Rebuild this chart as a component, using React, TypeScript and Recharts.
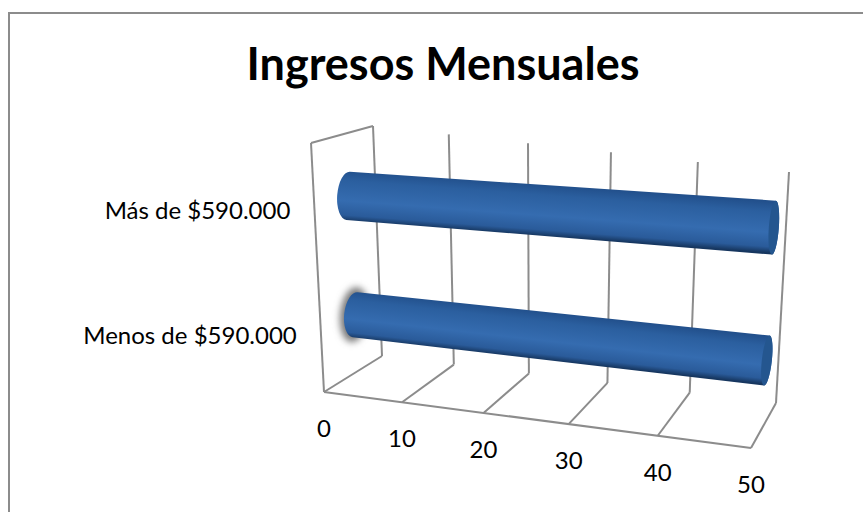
import { BarChart, Bar, XAxis, YAxis, CartesianGrid } from 'recharts';

const TITLE = 'Ingresos Mensuales';
const categories = ['Más de $590.000', 'Menos de $590.000'];
const values = [50, 50];
const xTicks = [0, 10, 20, 30, 40, 50];

const FONT = 'Lato, "Open Sans", sans-serif';
const GRID = '#8c8c8c';

// flat plot box that recharts lays out, everything is then projected into the 3D look
const PLOT = { left: 100, top: 100, width: 600, height: 250 };

type Pt = [number, number];
type Quad = [Pt, Pt, Pt, Pt]; // u0v0, u1v0, u1v1, u0v1

// unit square -> quad homography
function makeProjection([p0, p1, p2, p3]: Quad) {
  const dx1 = p1[0] - p2[0];
  const dx2 = p3[0] - p2[0];
  const sx = p0[0] - p1[0] + p2[0] - p3[0];
  const dy1 = p1[1] - p2[1];
  const dy2 = p3[1] - p2[1];
  const sy = p0[1] - p1[1] + p2[1] - p3[1];
  const det = dx1 * dy2 - dx2 * dy1;
  const g = (sx * dy2 - dx2 * sy) / det;
  const h = (dx1 * sy - sx * dy1) / det;
  const a = p1[0] - p0[0] + g * p1[0];
  const b = p3[0] - p0[0] + h * p3[0];
  const d = p1[1] - p0[1] + g * p1[1];
  const e = p3[1] - p0[1] + h * p3[1];
  return (u: number, v: number): Pt => {
    const w = g * u + h * v + 1;
    return [(a * u + b * v + p0[0]) / w, (d * u + e * v + p0[1]) / w];
  };
}

const backWall = makeProjection([[373, 126], [789, 172], [776, 403], [382, 356]]);
const floor = makeProjection([[382, 356], [776, 403], [751, 448], [324, 392]]);
const barPlane = makeProjection([[344.5, 133.5], [777.5, 157.5], [763.5, 423.5], [358.5, 371.5]]);

// the back wall is more foreshortened along the value axis than its corners give
const DEPTH = 0.905;
const toU = (x: number) => (x - PLOT.left) / PLOT.width;
const wallU = (u: number) => (DEPTH * u) / (1 + (DEPTH - 1) * u);
const toV = (y: number) => (y - PLOT.top) / PLOT.height;

const line = (a: Pt, b: Pt) => (
  <line x1={a[0]} y1={a[1]} x2={b[0]} y2={b[1]} stroke={GRID} strokeWidth={2} />
);

function GridLine(props: any) {
  const u = toU(props.x1);
  const isFirst = Math.abs(u) < 0.001;
  const back = wallU(u);
  return (
    <g key={props.key}>
      {line(backWall(back, 0), backWall(back, 1))}
      {line(backWall(back, 1), floor(u, 1))}
      {isFirst && (
        <>
          {line(backWall(0, 0), [311, 143])}
          {line([311, 143], floor(0, 1))}
          {line(floor(0, 1), floor(1, 1))}
        </>
      )}
    </g>
  );
}

function ValueTick(props: any) {
  const { x, payload } = props;
  const u = toU(x);
  const [px, py] = floor(u, 1);
  return (
    <text x={px} y={py + 39} textAnchor="middle" dominantBaseline="middle" fontFamily={FONT} fontSize={24} fill="#000">
      {payload.value}
    </text>
  );
}

function CategoryTick(props: any) {
  const { y, payload } = props;
  const v = toV(y);
  return (
    <text x={197.5 - (v - 0.25) * 15} y={150.5 + v * 250} textAnchor="middle" dominantBaseline="middle" fontFamily={FONT} fontSize={24} fill="#000">
      {payload.value}
    </text>
  );
}

function Cylinder(props: any) {
  const { x, y, width, height, index } = props;
  const u0 = toU(x);
  const u1 = toU(x + width);
  const vTop = toV(y);
  const vBot = toV(y + height);
  const vMid = (vTop + vBot) / 2;
  const start = barPlane(u0, vMid);
  const end = barPlane(u1, vMid);
  const r0 = Math.hypot(barPlane(u0, vBot)[0] - barPlane(u0, vTop)[0], barPlane(u0, vBot)[1] - barPlane(u0, vTop)[1]) / 2;
  const r1 = Math.hypot(barPlane(u1, vBot)[0] - barPlane(u1, vTop)[0], barPlane(u1, vBot)[1] - barPlane(u1, vTop)[1]) / 2;
  const len = Math.hypot(end[0] - start[0], end[1] - start[1]);
  const ax = (end[0] - start[0]) / len;
  const ay = (end[1] - start[1]) / len;
  const nx = -ay;
  const ny = ax;
  const angle = (Math.atan2(ay, ax) * 180) / Math.PI;
  const rxLeft = 11;
  const rxRight = 5;
  const topL: Pt = [start[0] - nx * r0, start[1] - ny * r0];
  const botL: Pt = [start[0] + nx * r0, start[1] + ny * r0];
  const topR: Pt = [end[0] - nx * r1, end[1] - ny * r1];
  const botR: Pt = [end[0] + nx * r1, end[1] + ny * r1];
  const gradId = `cyl-${index}`;
  const body = `M${topL[0]} ${topL[1]} L${topR[0]} ${topR[1]} A${rxRight} ${r1} ${angle} 0 1 ${botR[0]} ${botR[1]} L${botL[0]} ${botL[1]} A${rxLeft} ${r0} ${angle} 0 1 ${topL[0]} ${topL[1]} Z`;
  const mid: Pt = [(start[0] + end[0]) / 2, (start[1] + end[1]) / 2];
  const rm = (r0 + r1) / 2;
  return (
    <g>
      <defs>
        <linearGradient
          id={gradId}
          gradientUnits="userSpaceOnUse"
          x1={mid[0] - nx * rm}
          y1={mid[1] - ny * rm}
          x2={mid[0] + nx * rm}
          y2={mid[1] + ny * rm}
        >
          <stop offset="0" stopColor="#22508c" />
          <stop offset="0.2" stopColor="#2b5f9f" />
          <stop offset="0.6" stopColor="#356cb0" />
          <stop offset="0.88" stopColor="#2a5b9a" />
          <stop offset="1" stopColor="#16365f" />
        </linearGradient>
        <filter id={`glow-${index}`} x="-100%" y="-50%" width="300%" height="200%">
          <feGaussianBlur stdDeviation="3.5" />
        </filter>
      </defs>
      {index === 1 && (
        <ellipse
          cx={start[0] - 1}
          cy={start[1]}
          rx={rxLeft + 3}
          ry={r0 + 5}
          fill="#777"
          filter={`url(#glow-${index})`}
          transform={`rotate(${angle} ${start[0]} ${start[1]})`}
        />
      )}
      <path d={body} fill={`url(#${gradId})`} />
      <ellipse
        cx={end[0]}
        cy={end[1]}
        rx={rxRight}
        ry={r1}
        fill="#24568f"
        transform={`rotate(${angle} ${end[0]} ${end[1]})`}
      />
    </g>
  );
}

export default function App() {
  const data = categories.map((name, i) => ({ name, value: values[i] }));
  return (
    <div style={{ position: 'absolute', left: 0, top: 0, width: 863, height: 512, background: '#fff', overflow: 'hidden' }}>
      <div
        style={{
          position: 'absolute',
          left: 8,
          top: 12,
          width: 855,
          height: 500,
          borderLeft: '2px solid #8c8c8c',
          borderTop: '2px solid #8c8c8c',
          boxSizing: 'border-box',
        }}
      />
      <div
        style={{
          position: 'absolute',
          left: 0,
          width: 886,
          top: 36,
          textAlign: 'center',
          fontFamily: FONT,
          fontWeight: 700,
          fontSize: 45,
          lineHeight: '54px',
          color: '#000',
        }}
      >
        {TITLE}
      </div>
      <BarChart
        width={863}
        height={512}
        data={data}
        layout="vertical"
        margin={{ top: 100, right: 163, bottom: 132, left: 40 }}
        style={{ position: 'absolute', left: 0, top: 0 }}
      >
        <CartesianGrid horizontal={false} vertical={GridLine as any} />
        <XAxis type="number" domain={[0, 50]} ticks={xTicks} height={30} axisLine={false} tickLine={false} tick={ValueTick} interval={0} />
        <YAxis type="category" dataKey="name" width={60} axisLine={false} tickLine={false} tick={CategoryTick} interval={0} />
        <Bar dataKey="value" barSize={49} shape={Cylinder} isAnimationActive={false} />
      </BarChart>
    </div>
  );
}
